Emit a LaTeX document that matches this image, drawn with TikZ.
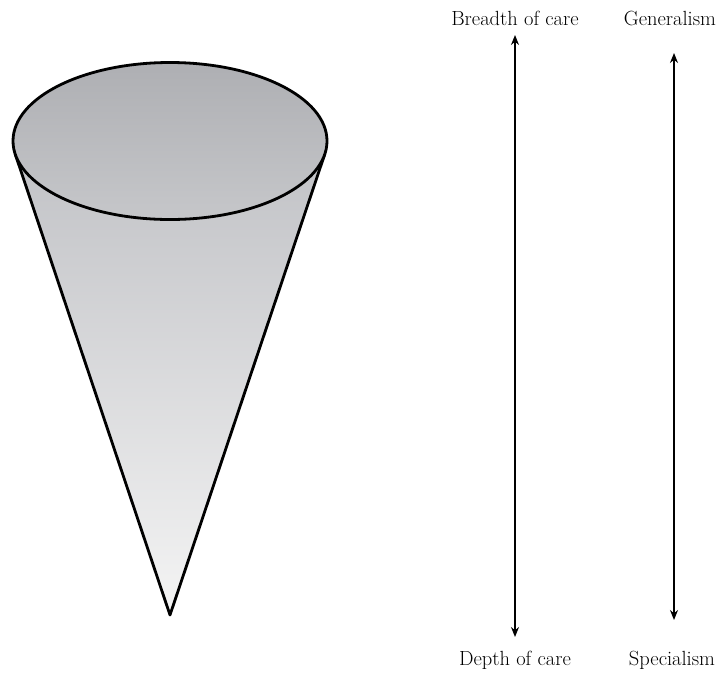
\documentclass[tikz,border=0pt]{standalone}
\usepackage{tikz}
\usetikzlibrary{arrows.meta,positioning,calc}
\definecolor{conetop}{RGB}{192,193,197}
\definecolor{conebot}{RGB}{244,244,244}
\definecolor{lidtop}{RGB}{174,175,179}
\definecolor{lidbot}{RGB}{198,199,202}

\begin{document}
\begin{tikzpicture}[
    x=1pt, y=-1pt,
    >={Stealth[length=10pt,width=8pt]},
    axis/.style={<->, line width=1.4pt},
    lbl/.style={font=\fontsize{20.5}{24}\selectfont, inner sep=0pt, anchor=base},
    outline/.style={line width=2.8pt, line join=round}
  ]
    \useasboundingbox (0,0) rectangle (723,673);

    %--- Cone (left) ---
    \coordinate (tip) at (170,615);
    \coordinate (lt)  at (15.2,154);
    \coordinate (rt)  at (324.8,154);
    \shade[top color=conetop, bottom color=conebot]
      (lt) -- (tip) -- (rt) -- (170,141) -- cycle;
    \draw[outline] (lt) -- (tip) -- (rt);
    \shade[top color=lidtop, bottom color=lidbot, draw=black, outline]
      (170,141) ellipse [x radius=157, y radius=78.5];

    %--- Axis labels ---
    \node[lbl] (brd) at (515,25)  {Breadth of care};
    \node[lbl] (dep) at (515,665) {Depth of care};
    \node[lbl] (gen) at (670,25)  {Generalism};
    \node[lbl] (spc) at (672,665) {Specialism};

    %--- Arrows ---
    \coordinate (brdend) at (515,35);
    \coordinate (depend) at (515,637);
    \coordinate (genend) at (674,53);
    \coordinate (spcend) at (674,620);
    \draw[axis] (brdend) -- (depend);
    \draw[axis] (genend) -- (spcend);
\end{tikzpicture}
\end{document}
